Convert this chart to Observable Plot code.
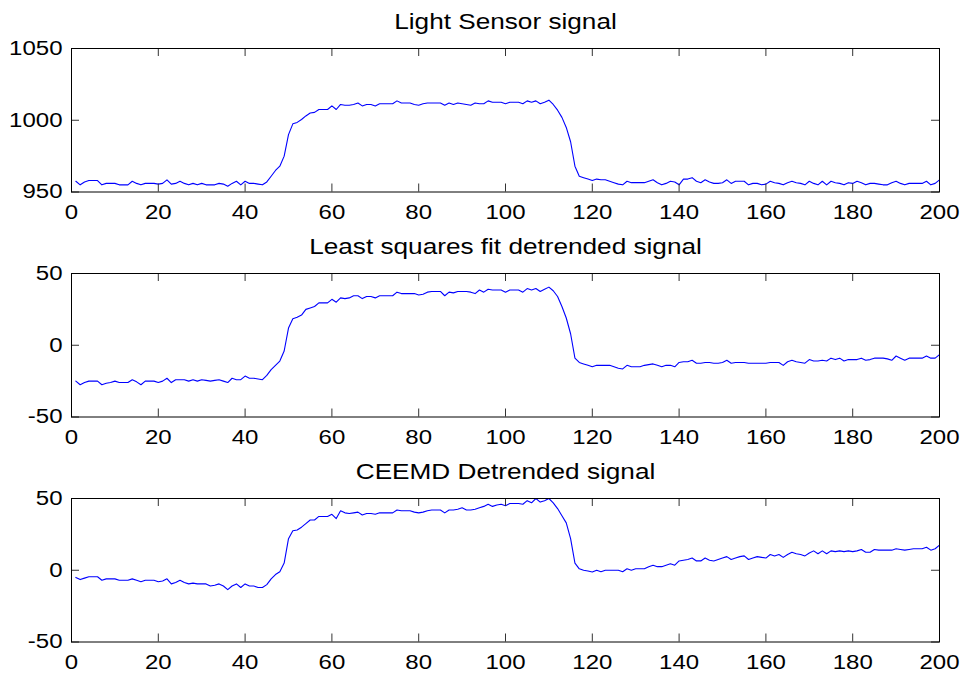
<!DOCTYPE html>
<html>
<head>
<meta charset="utf-8">
<script src="https://cdn.jsdelivr.net/npm/d3@7"></script>
<script src="https://cdn.jsdelivr.net/npm/@observablehq/plot@0.6"></script>
<style>
  body { margin: 0; background: #fff; }
  #fig { position: relative; width: 967px; height: 675px; background: #fff; overflow: hidden; }
  #fig svg { position: absolute; left: 0; }
</style>
</head>
<body>
<div id="fig"></div>
<script>
// Light sensor readings, samples 1..200
const lightSensor = [
  957.5, 955, 957, 958, 958, 958, 955, 956, 956, 956,
  955, 955, 955, 957.5, 956, 955, 956, 956, 956, 955.5,
  956, 958.5, 955.5, 956, 957.5, 956, 955, 956, 955, 956,
  955, 955, 955, 956, 955.5, 954, 956, 957.5, 955, 957.5,
  956, 956, 955.5, 955, 957, 961, 965, 968, 975, 990,
  997.5, 998.5, 1000.5, 1003, 1005, 1005.5, 1007.5, 1007.5, 1007.5, 1010,
  1007.5, 1011, 1010.5, 1010.5, 1011, 1012, 1010, 1011, 1011, 1010,
  1011.5, 1011.5, 1011.5, 1011.5, 1013.5, 1012, 1012, 1012, 1011, 1010.5,
  1011.5, 1012, 1012, 1012, 1012, 1010.5, 1012, 1011, 1012, 1011.5,
  1011, 1010.5, 1012, 1011.5, 1011.5, 1013.5, 1012.5, 1012.5, 1012.5, 1011.5,
  1012.5, 1012.5, 1012.5, 1011.5, 1013.5, 1012.5, 1013.5, 1011.5, 1012.5, 1014,
  1011, 1007, 1002, 995, 985, 968, 961, 960, 959, 958,
  959, 958.5, 958.5, 957.5, 956.5, 955.5, 955, 957.5, 956.5, 956.5,
  956.5, 956.5, 957.5, 958.5, 956.5, 955, 956, 957.5, 957, 955,
  959, 959, 960, 957.5, 956.5, 958.5, 957, 956, 956, 956.5,
  958.5, 956, 957.5, 957.5, 957.5, 955, 956, 956, 955, 955.5,
  957.5, 956.5, 956, 955, 956.5, 957.5, 956.5, 956, 955, 957.5,
  956, 955, 957.5, 955, 957.5, 956.5, 956, 955, 956.5, 956,
  957.5, 956.5, 955, 956, 956, 955.5, 955, 955, 956.5, 957.5,
  956, 955, 956, 956, 956, 956, 957.5, 955, 956, 958.5
];

// Same signal after subtracting a least squares linear fit
const leastSquaresDetrended = [
  -25, -27.5, -26, -25, -25, -25, -27.5, -26.5, -26, -25,
  -26, -26, -26, -24, -25.5, -27.5, -25, -25, -25, -26,
  -25, -23, -26, -24, -24, -24, -25, -24, -25, -24,
  -24.5, -25, -24.5, -24, -25, -26, -23, -24, -24, -21.5,
  -23, -23, -23.5, -24, -21, -17, -14, -11, -4, 12,
  18.5, 19.5, 21, 25, 26, 27, 29.5, 29.5, 29.5, 32,
  30, 33, 32.5, 33, 34.5, 34.5, 32.5, 34, 34, 33,
  34.5, 34.5, 34.5, 34.5, 37, 36, 36, 36, 36, 35,
  35.5, 37, 37.5, 37.5, 37.5, 34.5, 37, 36.5, 37.5, 37.5,
  37.5, 37, 36, 38.5, 37, 39, 38.5, 38.5, 38.5, 37,
  38.5, 38.5, 38.5, 37, 39.5, 38.5, 39.5, 37.5, 39, 40.5,
  38, 34, 27, 19, 8, -9, -12, -13, -14, -15,
  -14, -14, -14, -14, -15, -16, -16.5, -14, -15, -15,
  -15, -14, -13.5, -13, -14, -15, -14, -14, -15, -12,
  -11.5, -11.5, -10.5, -12.5, -12.5, -12, -12, -12.5, -12.5, -12,
  -10.5, -12.5, -12, -12, -12, -12.5, -12.5, -12.5, -12.5, -12.5,
  -12, -12, -12, -14, -11.5, -10.5, -11.5, -12, -12.5, -10,
  -11, -11, -10.5, -11, -9, -10, -9, -11, -10, -10,
  -10, -9, -10.5, -10, -9, -9, -9, -9.5, -10.5, -7.5,
  -9, -10.5, -9, -9, -9, -9, -7.5, -9, -9, -6.5
];

// Same signal after removing the CEEMD trend
const ceemdDetrended = [
  -5, -6.5, -5.5, -4.5, -4.5, -4.5, -7, -6, -6, -6,
  -7, -7, -7, -6, -7, -8, -7, -7, -7, -8,
  -7.5, -6, -9.5, -8.5, -7, -8.5, -9.5, -9, -9.5, -9.5,
  -9.5, -11, -10.5, -9.5, -11, -13.5, -11, -9.5, -12, -9.5,
  -11, -11, -12, -12, -10, -6, -3, -1, 5, 22,
  27.5, 28, 30, 32.5, 35, 35, 37.5, 37.5, 37.5, 39,
  36, 41.5, 40, 39.5, 40, 40.5, 38.5, 39.5, 39.5, 39,
  40, 40, 40, 40, 42, 41.5, 41.5, 41.5, 40.5, 40,
  40.5, 41.5, 42, 42, 42, 40, 42, 42, 42.5, 43.5,
  42, 42, 42.5, 43.5, 44.5, 46, 44.5, 45.5, 46, 45,
  46.5, 46.5, 46.5, 46, 48.5, 47, 50, 47.5, 48.5, 50,
  47, 43, 38, 33, 22, 5, 1, 0, -0.5, -1.2,
  0, -1, 0, 0, 0, 0, -1, 1, 0, 1,
  1, 1, 2.5, 3.5, 2.5, 2.5, 3.5, 4.5, 3.5, 6.5,
  7, 7.5, 8.5, 6.5, 6.5, 8.5, 7, 6.5, 7.5, 8.5,
  9.5, 7.5, 8.5, 9.5, 10, 7.5, 8.5, 9.5, 9, 8.5,
  11, 10, 11, 9, 11, 12.5, 11.5, 11, 10, 12,
  13.5, 11.5, 13.5, 11.5, 13.5, 13, 13.5, 13, 13.5, 13,
  13.5, 14.5, 12.5, 12.5, 14.5, 14, 14, 14, 14, 15,
  14.5, 14, 14.5, 15, 15, 15, 16, 14, 15, 17.5
];

const panelTitles = ["Light Sensor signal", "Least squares fit detrended signal", "CEEMD Detrended signal"];
const xTicks = [0, 20, 40, 60, 80, 100, 120, 140, 160, 180, 200];
const lightTicks = [950, 1000, 1050];
const detrendTicks = [-50, 0, 50];

// Figure geometry
const W = 967, ML = 71, MR = 28, MT = 40, MB = 35, FH = 143.5, TICK = 8;
const FW = W - ML - MR;
const frameTops = [47.5, 272.5, 498];
const STRETCH = 1.2; // horizontal glyph stretch of all text

const panels = [
  {title: panelTitles[0], values: lightSensor, domain: [950, 1050], ticks: lightTicks},
  {title: panelTitles[1], values: leastSquaresDetrended, domain: [-50, 50], ticks: detrendTicks},
  {title: panelTitles[2], values: ceemdDetrended, domain: [-50, 50], ticks: detrendTicks}
];

const fig = document.getElementById("fig");

panels.forEach((p, k) => {
  const series = p.values.map((v, i) => ({sample: i + 1, value: v}));
  const svg = Plot.plot({
    width: W,
    height: MT + FH + MB,
    marginLeft: ML,
    marginRight: MR,
    marginTop: MT,
    marginBottom: MB,
    style: {
      fontFamily: "'Liberation Sans', Arial, Helvetica, sans-serif",
      fontSize: "20px",
      color: "#000",
      background: "transparent",
      overflow: "visible"
    },
    x: {domain: [0, 200]},
    y: {domain: p.domain},
    marks: [
      Plot.line(series, {x: "sample", y: "value", stroke: "#0000ff", strokeWidth: 1.1}),
      // inward tick marks on all four sides
      Plot.ruleX(xTicks, {x: d => d, insetTop: FH - TICK, stroke: "#333"}),
      Plot.ruleX(xTicks, {x: d => d, insetBottom: FH - TICK, stroke: "#333"}),
      Plot.ruleY(p.ticks, {y: d => d, insetRight: FW - TICK, stroke: "#333"}),
      Plot.ruleY(p.ticks, {y: d => d, insetLeft: FW - TICK, stroke: "#333"}),
      Plot.frame({stroke: "#000"}),
      Plot.axisX({ticks: xTicks, tickSize: 0, tickPadding: 13, tickFormat: d => String(d), label: null}),
      Plot.axisY({ticks: p.ticks, tickSize: 0, tickPadding: 9, tickFormat: d => String(d), label: null}),
      Plot.text([p.title], {
        text: d => d,
        frameAnchor: "top",
        lineAnchor: "bottom",
        dy: -19.5,
        fontSize: 21.8,
        fill: "#000"
      })
    ]
  });
  svg.style.top = (frameTops[k] - MT) + "px";
  fig.appendChild(svg);
  // widen every label to the figure's stretched lettering
  svg.querySelectorAll("text").forEach(t => {
    const w = t.getComputedTextLength();
    if (w > 0) {
      t.setAttribute("textLength", (w * STRETCH).toFixed(2));
      t.setAttribute("lengthAdjust", "spacingAndGlyphs");
    }
  });
});
</script>
</body>
</html>
